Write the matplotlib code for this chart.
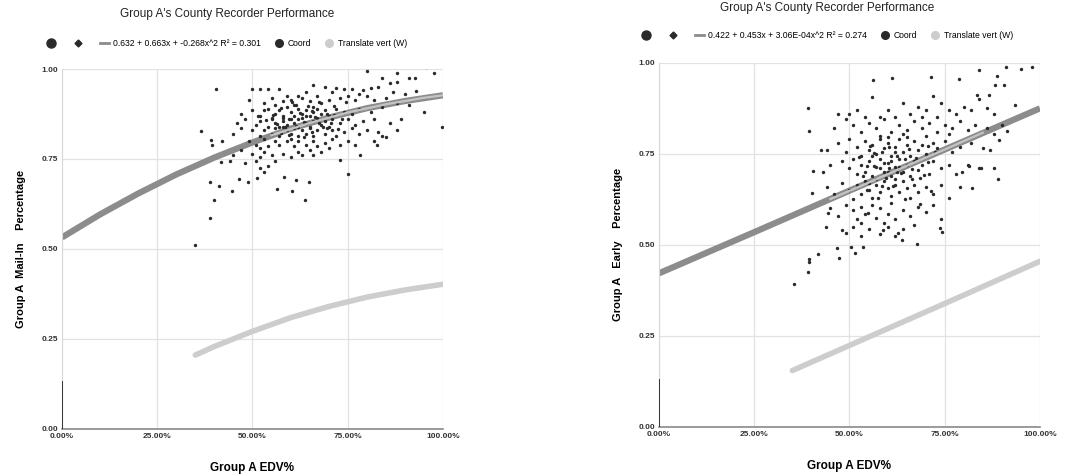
"""Two scatter panels: Group A county recorder performance vs EDV%."""

import matplotlib
matplotlib.use("Agg")
from matplotlib import pyplot as plt
from matplotlib.lines import Line2D

plt.rcParams["font.family"] = ["Liberation Sans", "DejaVu Sans"]

# ---- data ---------------------------------------------------------------
x_ticks = [0.0, 0.25, 0.5, 0.75, 1.0]
x_tick_labels = ["0.00%", "25.00%", "50.00%", "75.00%", "100.00%"]
y_ticks = [0.0, 0.25, 0.5, 0.75, 1.0]
y_tick_labels = ["0.00", "0.25", "0.50", "0.75", "1.00"]

title = "Group A's County Recorder Performance"
x_label = "Group A EDV%"

# left panel: Mail-In
mail_label = "Group A  Mail-In    Percentage"
mail_eq = "0.632 + 0.663x + -0.268x^2 R² = 0.301"
mail_x = [
    0.364, 0.349, 0.389, 0.399, 0.389, 0.412, 0.404, 0.393, 0.391, 0.447,
    0.417, 0.464, 0.488, 0.513, 0.583, 0.565, 0.604, 0.615, 0.637, 0.648,
    0.751, 0.729, 0.783, 0.827, 0.949, 0.997, 0.976, 0.955, 0.80, 0.927,
    0.91, 0.88,
    0.50, 0.52, 0.54, 0.57, 0.59, 0.62, 0.66, 0.69, 0.72, 0.74,
    0.76, 0.79, 0.81, 0.83, 0.86, 0.84, 0.88, 0.71, 0.64,
    0.49, 0.53, 0.55, 0.58, 0.60, 0.61, 0.63, 0.65, 0.67, 0.68,
    0.70, 0.73, 0.75, 0.77, 0.80, 0.82, 0.85, 0.87, 0.90, 0.93,
    0.78, 0.56, 0.66,
    0.47, 0.50, 0.52, 0.54, 0.56, 0.57, 0.58, 0.59, 0.60, 0.61,
    0.62, 0.63, 0.64, 0.65, 0.66, 0.67, 0.68, 0.69, 0.70, 0.72,
    0.74, 0.76, 0.78, 0.81, 0.84, 0.88, 0.91, 0.55, 0.53,
    0.46, 0.48, 0.51, 0.52, 0.54, 0.55, 0.56, 0.57, 0.58, 0.59,
    0.60, 0.61, 0.62, 0.63, 0.64, 0.65, 0.66, 0.67, 0.68, 0.69,
    0.70, 0.71, 0.73, 0.75, 0.77, 0.79, 0.82, 0.86, 0.89, 0.58,
    0.62, 0.64,
    0.45, 0.47, 0.50, 0.52, 0.53, 0.55, 0.56, 0.57, 0.59, 0.60,
    0.61, 0.62, 0.63, 0.64, 0.65, 0.66, 0.67, 0.69, 0.71, 0.72,
    0.74, 0.76, 0.78, 0.80, 0.83, 0.85, 0.88, 0.60, 0.58,
    0.49, 0.51, 0.53, 0.54, 0.56, 0.57, 0.59, 0.61, 0.62, 0.64,
    0.66, 0.67, 0.69, 0.71, 0.73, 0.75, 0.77, 0.82, 0.84, 0.52,
    0.42,
    0.47, 0.50, 0.52, 0.53, 0.55, 0.56, 0.58, 0.60, 0.62, 0.63,
    0.65, 0.66, 0.68, 0.70, 0.54, 0.51, 0.48, 0.45, 0.44, 0.53,
    0.52,
    0.555, 0.565, 0.575, 0.585, 0.595, 0.605, 0.615, 0.625, 0.635, 0.645,
    0.655, 0.665, 0.675, 0.685, 0.695, 0.705, 0.715, 0.725, 0.735, 0.745,
    0.575, 0.595, 0.615, 0.635, 0.655, 0.675, 0.695, 0.715, 0.535, 0.515,
]
mail_y = [
    0.827, 0.511, 0.585, 0.636, 0.685, 0.676, 0.944, 0.789, 0.804, 0.662,
    0.741, 0.694, 0.685, 0.696, 0.699, 0.667, 0.662, 0.692, 0.637, 0.687,
    0.708, 0.748, 0.761, 0.790, 0.881, 0.838, 0.989, 1.005, 0.995, 0.976,
    0.976, 0.989,
    0.944, 0.944, 0.944, 0.944, 0.925, 0.926, 0.955, 0.951, 0.947, 0.944,
    0.944, 0.942, 0.947, 0.949, 0.960, 0.975, 0.965, 0.935, 0.935,
    0.915, 0.905, 0.920, 0.910, 0.915, 0.900, 0.920, 0.910, 0.925, 0.905,
    0.915, 0.920, 0.925, 0.915, 0.925, 0.915, 0.920, 0.935, 0.930, 0.940,
    0.930, 0.900, 0.895,
    0.875, 0.885, 0.870, 0.890, 0.875, 0.885, 0.870, 0.895, 0.880, 0.870,
    0.890, 0.875, 0.885, 0.870, 0.880, 0.890, 0.875, 0.885, 0.870, 0.890,
    0.880, 0.875, 0.890, 0.880, 0.895, 0.905, 0.900, 0.860, 0.885,
    0.850, 0.860, 0.845, 0.855, 0.840, 0.865, 0.850, 0.840, 0.855, 0.845,
    0.860, 0.850, 0.840, 0.865, 0.850, 0.840, 0.855, 0.865, 0.845, 0.855,
    0.840, 0.860, 0.850, 0.860, 0.845, 0.855, 0.860, 0.850, 0.860, 0.865,
    0.860, 0.870,
    0.820, 0.835, 0.830, 0.815, 0.830, 0.820, 0.835, 0.815, 0.830, 0.820,
    0.835, 0.815, 0.830, 0.820, 0.835, 0.815, 0.830, 0.820, 0.830, 0.815,
    0.825, 0.835, 0.820, 0.830, 0.825, 0.810, 0.830, 0.805, 0.840,
    0.800, 0.790, 0.805, 0.785, 0.800, 0.790, 0.800, 0.785, 0.800, 0.790,
    0.800, 0.785, 0.795, 0.805, 0.790, 0.800, 0.790, 0.800, 0.815, 0.780,
    0.800,
    0.775, 0.765, 0.755, 0.770, 0.760, 0.745, 0.765, 0.755, 0.770, 0.760,
    0.775, 0.760, 0.770, 0.780, 0.730, 0.745, 0.740, 0.760, 0.745, 0.715,
    0.725,
    0.872, 0.848, 0.893, 0.838, 0.862, 0.907, 0.843, 0.878, 0.852, 0.897,
    0.826, 0.868, 0.909, 0.838, 0.874, 0.851, 0.896, 0.832, 0.862, 0.908,
    0.822, 0.818, 0.899, 0.812, 0.884, 0.851, 0.837, 0.871, 0.858, 0.869,
]
mail_fit_x = [0.0, 0.1, 0.2, 0.3, 0.4, 0.5, 0.6, 0.7, 0.8, 0.9, 1.0]
mail_fit_y = [0.532, 0.596, 0.654, 0.707, 0.754, 0.796, 0.834, 0.865, 0.891, 0.911, 0.927]
mail_shift_x = [0.35, 0.4, 0.5, 0.6, 0.7, 0.8, 0.9, 1.0]
mail_shift_y = [0.205, 0.229, 0.271, 0.309, 0.340, 0.366, 0.386, 0.402]
mail_overlay_x = [0.55, 0.65, 0.75, 0.85, 0.95, 1.0]
mail_overlay_y = [0.816, 0.850, 0.879, 0.902, 0.920, 0.927]

# right panel: Early
early_label = "Group A   Early    Percentage"
early_eq = "0.422 + 0.453x + 3.06E-04x^2 R² = 0.274"
early_x = [
    0.354, 0.391, 0.393, 0.394, 0.417, 0.472, 0.466, 0.505, 0.514, 0.536,
    0.677, 0.391, 0.395, 0.424, 0.404, 0.402, 0.562, 0.611, 0.714, 0.788,
    0.839, 0.887, 0.911, 0.949, 0.971, 0.980, 0.905, 0.881, 0.835, 0.865,
    0.934, 0.914, 0.892, 0.879, 0.889, 0.844, 0.813, 0.822, 0.795, 0.738,
    0.743, 0.637, 0.549, 0.439, 0.444, 0.492, 0.589, 0.628,
    0.47, 0.52, 0.54, 0.56, 0.58, 0.60, 0.62, 0.64, 0.66, 0.68,
    0.70, 0.72, 0.74, 0.76, 0.78, 0.80, 0.82, 0.84, 0.86, 0.88,
    0.73, 0.69, 0.50,
    0.46, 0.49, 0.51, 0.53, 0.55, 0.57, 0.59, 0.61, 0.63, 0.65,
    0.67, 0.69, 0.71, 0.73, 0.75, 0.77, 0.79, 0.81, 0.83, 0.86,
    0.88, 0.90, 0.58, 0.64, 0.70, 0.76,
    0.44, 0.47, 0.49, 0.50, 0.52, 0.53, 0.54, 0.55, 0.56, 0.57,
    0.58, 0.59, 0.60, 0.61, 0.62, 0.63, 0.64, 0.65, 0.66, 0.67,
    0.68, 0.69, 0.70, 0.72, 0.73, 0.75, 0.77, 0.79, 0.82, 0.85,
    0.87, 0.60, 0.65, 0.56, 0.62,
    0.43, 0.45, 0.48, 0.50, 0.51, 0.52, 0.53, 0.54, 0.55, 0.56,
    0.57, 0.58, 0.59, 0.60, 0.61, 0.62, 0.63, 0.64, 0.65, 0.66,
    0.67, 0.68, 0.69, 0.71, 0.72, 0.74, 0.76, 0.78, 0.81, 0.84,
    0.58, 0.61, 0.63, 0.59, 0.60,
    0.44, 0.46, 0.48, 0.50, 0.51, 0.52, 0.53, 0.54, 0.55, 0.56,
    0.57, 0.58, 0.59, 0.60, 0.61, 0.62, 0.63, 0.64, 0.65, 0.66,
    0.67, 0.68, 0.70, 0.72, 0.74, 0.76, 0.79, 0.57, 0.55, 0.62,
    0.45, 0.47, 0.49, 0.51, 0.52, 0.53, 0.54, 0.56, 0.57, 0.58,
    0.60, 0.61, 0.62, 0.64, 0.66, 0.68, 0.70, 0.72, 0.74, 0.53,
    0.59,
    0.48, 0.51, 0.53, 0.55, 0.58, 0.60, 0.62, 0.64, 0.67,
    0.525, 0.535, 0.545, 0.555, 0.565, 0.575, 0.585, 0.595, 0.605, 0.615,
    0.625, 0.635, 0.645, 0.655, 0.665, 0.675, 0.685, 0.695, 0.705, 0.715,
    0.545, 0.565, 0.585, 0.605, 0.625, 0.645, 0.665, 0.685, 0.705, 0.725,
]
early_y = [
    0.394, 0.425, 0.454, 0.461, 0.475, 0.463, 0.491, 0.495, 0.477, 0.494,
    0.502, 0.876, 0.812, 0.761, 0.702, 0.642, 0.954, 0.959, 0.961, 0.956,
    0.980, 0.965, 0.988, 0.983, 1.009, 0.988, 0.938, 0.938, 0.913, 0.913,
    0.885, 0.812, 0.789, 0.711, 0.681, 0.711, 0.717, 0.656, 0.699, 0.546,
    0.535, 0.514, 0.587, 0.550, 0.587, 0.532, 0.541, 0.532,
    0.860, 0.870, 0.850, 0.905, 0.850, 0.870, 0.850, 0.890, 0.860, 0.880,
    0.870, 0.910, 0.890, 0.870, 0.860, 0.880, 0.870, 0.900, 0.875, 0.860,
    0.850, 0.850, 0.860,
    0.820, 0.845, 0.830, 0.810, 0.835, 0.820, 0.845, 0.810, 0.830, 0.815,
    0.840, 0.820, 0.835, 0.810, 0.830, 0.820, 0.840, 0.815, 0.830, 0.820,
    0.805, 0.830, 0.800, 0.805, 0.800, 0.805,
    0.760, 0.780, 0.755, 0.790, 0.770, 0.745, 0.785, 0.760, 0.775, 0.750,
    0.790, 0.765, 0.780, 0.745, 0.770, 0.790, 0.755, 0.775, 0.745, 0.785,
    0.760, 0.775, 0.750, 0.780, 0.765, 0.785, 0.755, 0.770, 0.780, 0.765,
    0.760, 0.795, 0.795, 0.745, 0.755,
    0.700, 0.720, 0.730, 0.710, 0.735, 0.695, 0.720, 0.700, 0.730, 0.690,
    0.715, 0.735, 0.700, 0.725, 0.690, 0.715, 0.735, 0.700, 0.720, 0.690,
    0.730, 0.705, 0.720, 0.695, 0.730, 0.710, 0.720, 0.695, 0.720, 0.710,
    0.710, 0.730, 0.715, 0.725, 0.700,
    0.660, 0.640, 0.670, 0.650, 0.625, 0.665, 0.640, 0.675, 0.650, 0.630,
    0.665, 0.645, 0.675, 0.655, 0.635, 0.665, 0.645, 0.675, 0.655, 0.630,
    0.665, 0.645, 0.660, 0.640, 0.665, 0.630, 0.660, 0.680, 0.670, 0.680,
    0.600, 0.580, 0.610, 0.595, 0.570, 0.605, 0.585, 0.610, 0.575, 0.600,
    0.585, 0.615, 0.570, 0.595, 0.580, 0.605, 0.590, 0.610, 0.570, 0.560,
    0.560,
    0.540, 0.550, 0.525, 0.545, 0.530, 0.550, 0.525, 0.545, 0.555,
    0.742, 0.688, 0.652, 0.771, 0.718, 0.629, 0.754, 0.683, 0.711, 0.662,
    0.745, 0.697, 0.625, 0.764, 0.681, 0.738, 0.612, 0.692, 0.771, 0.648,
    0.718, 0.752, 0.662, 0.768, 0.701, 0.736, 0.709, 0.683, 0.729, 0.754,
]
early_fit_x = [0.0, 0.25, 0.5, 0.75, 1.0]
early_fit_y = [0.422, 0.535, 0.649, 0.762, 0.875]
early_shift_x = [0.35, 0.5, 0.75, 1.0]
early_shift_y = [0.155, 0.224, 0.339, 0.455]
early_overlay_x = [0.45, 0.55, 0.65, 0.75, 0.85]
early_overlay_y = [0.626, 0.671, 0.717, 0.762, 0.808]

DOT = "#2a2a2a"
FIT = "#8c8c8c"
LIGHT = "#cdcdcd"


def draw_panel(fig, rect, xs, ys, fit_x, fit_y, shift_x, shift_y, ov_x, ov_y,
               ylabel, eq, title_xy, legend_xy):
    ax = fig.add_axes(rect)
    ax.plot(fit_x, fit_y, color=FIT, lw=4.5, solid_capstyle="butt", zorder=2)
    ax.plot(shift_x, shift_y, color=LIGHT, lw=4, solid_capstyle="round", zorder=2)
    ax.scatter(xs, ys, s=6, color=DOT, linewidths=0, zorder=3)
    ax.plot(ov_x, ov_y, color="#c4c4c4", lw=1.6, zorder=4)

    ax.set_xlim(0, 1)
    ax.set_ylim(0, 1)
    ax.set_xticks(x_ticks)
    ax.set_xticklabels(x_tick_labels)
    ax.set_yticks(y_ticks)
    ax.set_yticklabels(y_tick_labels)
    ax.tick_params(length=0, labelsize=6, pad=3)
    for lab in ax.get_xticklabels() + ax.get_yticklabels():
        lab.set_fontweight("bold")
        lab.set_color("#333333")
    ax.grid(True, color="#e2e2e2", lw=0.9)
    ax.set_axisbelow(True)
    for side in ["top", "right"]:
        ax.spines[side].set_visible(False)
    ax.spines["left"].set_color("#d8d8d8")
    ax.spines["bottom"].set_color("#8a8a8a")
    ax.spines["bottom"].set_linewidth(1.2)
    # scanned copy: lower part of the y axis comes out dark
    ax.axvline(0, ymax=0.13, color="#333333", lw=1.4, zorder=5)

    ax.set_xlabel(x_label, fontsize=8.5, fontweight="bold", labelpad=16)
    ax.set_ylabel(ylabel, fontsize=8, fontweight="bold", labelpad=11)

    fig.text(title_xy[0], title_xy[1], title, fontsize=8.5, ha="center",
             va="center", color="#222222")
    handles = [
        Line2D([], [], ls="", marker="o", ms=6.5, color=DOT),
        Line2D([], [], ls="", marker="D", ms=3.5, color=DOT),
        Line2D([], [], color=FIT, lw=2),
        Line2D([], [], ls="", marker="o", ms=5.5, color=DOT),
        Line2D([], [], ls="", marker="o", ms=5.5, color=LIGHT),
    ]
    labels = ["", "", eq, "Coord", "Translate vert (W)"]
    fig.legend(handles, labels, loc="center", bbox_to_anchor=legend_xy,
               ncol=5, frameon=False, fontsize=6.2, handlelength=1.0,
               handletextpad=0.5, columnspacing=1.6)
    return ax


fig = plt.figure(figsize=(10.65, 4.76), dpi=100)

draw_panel(fig, [0.0582, 0.099, 0.3577, 0.756], mail_x, mail_y,
           mail_fit_x, mail_fit_y, mail_shift_x, mail_shift_y,
           mail_overlay_x, mail_overlay_y, mail_label, mail_eq,
           (0.213, 0.970), (0.213, 0.909))
draw_panel(fig, [0.6188, 0.103, 0.3577, 0.765], early_x, early_y,
           early_fit_x, early_fit_y, early_shift_x, early_shift_y,
           early_overlay_x, early_overlay_y, early_label, early_eq,
           (0.777, 0.983), (0.777, 0.926))

fig.savefig("out.png", dpi=100)
plt.close(fig)
